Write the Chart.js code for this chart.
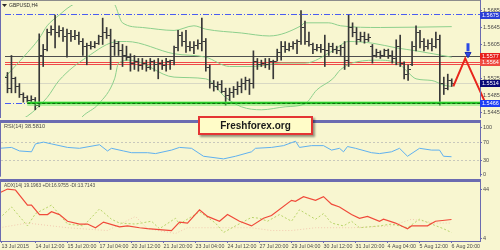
<!DOCTYPE html>
<html><head><meta charset="utf-8">
<script src="https://cdn.jsdelivr.net/npm/chart.js@4.4.0/dist/chart.umd.min.js"></script>
<style>
html,body{margin:0;padding:0;background:#f8f6d0;}
#wrap{position:relative;width:500px;height:250px;overflow:hidden;background:#f8f6d0;}
canvas{position:absolute;left:0;}
#c1{top:0}
#c2{top:121px}
#c3{top:180px}
#brand{position:absolute;left:198px;top:116px;width:111px;height:15px;border:2px solid #e43434;background:#fffcc8;box-shadow:2px 2px 2px rgba(0,0,0,0.4);font:bold 10px "Liberation Sans",Arial,sans-serif;color:#1a1a1a;text-align:center;line-height:15px;}
</style></head>
<body><div id="wrap">
<canvas id="c1" width="500" height="122"></canvas>
<canvas id="c2" width="500" height="59"></canvas>
<canvas id="c3" width="500" height="70"></canvas>
<div id="brand">Freshforex.org</div>
</div>
<script>
// ---------- data ----------
const timeLabels = ['13 Jul 2015','14 Jul 12:00','15 Jul 20:00','17 Jul 04:00','20 Jul 12:00','21 Jul 20:00','23 Jul 04:00','24 Jul 12:00','27 Jul 20:00','29 Jul 04:00','30 Jul 12:00','31 Jul 20:00','4 Aug 04:00','5 Aug 12:00','6 Aug 20:00'];
const timeLabelIdx = [0.5,9,17,25,33,41,49,57,65,73,81,89,97,105,113];
const priceTicks = [1.5685,1.5645,1.5605,1.5565,1.5525,1.5485,1.5445];
const rsiTicks = [100,70,30,0];
const rsiLevels = [70,30];
const adxTicks = [44,4];

const barOpen = [1.5513,1.5528,1.5502,1.5524,1.5506,1.5487,1.5480,1.5473,1.5476,1.5462,
1.5579,1.5594,1.5634,1.5641,1.5634,1.5638,1.5623,1.5630,1.5623,1.5627,
1.5612,1.5601,1.5603,1.5601,1.5608,1.5623,1.5634,1.5627,1.5601,1.5608,
1.5590,1.5579,1.5575,1.5561,1.5564,1.5555,1.5561,1.5550,1.5564,1.5557,
1.5559,1.5555,1.5564,1.5568,1.5597,1.5627,1.5612,1.5601,1.5597,1.5603,
1.5608,1.5612,1.5550,1.5513,1.5506,1.5511,1.5495,1.5484,1.5491,1.5498,
1.5506,1.5513,1.5520,1.5513,1.5564,1.5557,1.5561,1.5557,1.5564,1.5566,
1.5586,1.5601,1.5594,1.5601,1.5608,1.5612,1.5645,1.5612,1.5605,1.5594,
1.5599,1.5594,1.5590,1.5601,1.5594,1.5590,1.5597,1.5568,1.5645,1.5634,
1.5616,1.5623,1.5616,1.5601,1.5579,1.5586,1.5579,1.5590,1.5579,1.5572,
1.5601,1.5561,1.5535,1.5557,1.5601,1.5634,1.5612,1.5601,1.5608,1.5601,
1.5616,1.5513,1.5502,1.5520];
const barHigh = [1.5546,1.5539,1.5579,1.5528,1.5513,1.5491,1.5484,1.5484,1.5480,1.5630,
1.5605,1.5641,1.5649,1.5674,1.5649,1.5645,1.5641,1.5638,1.5638,1.5634,
1.5619,1.5608,1.5612,1.5612,1.5627,1.5667,1.5645,1.5641,1.5616,1.5612,
1.5605,1.5601,1.5583,1.5579,1.5572,1.5572,1.5568,1.5572,1.5568,1.5572,
1.5568,1.5572,1.5568,1.5601,1.5638,1.5634,1.5638,1.5612,1.5612,1.5616,
1.5667,1.5619,1.5557,1.5520,1.5517,1.5520,1.5502,1.5502,1.5506,1.5517,
1.5524,1.5528,1.5524,1.5590,1.5572,1.5568,1.5572,1.5572,1.5568,1.5594,
1.5612,1.5612,1.5608,1.5612,1.5616,1.5685,1.5660,1.5634,1.5608,1.5605,
1.5605,1.5627,1.5608,1.5608,1.5601,1.5603,1.5612,1.5674,1.5656,1.5645,
1.5634,1.5634,1.5630,1.5605,1.5594,1.5590,1.5594,1.5594,1.5590,1.5616,
1.5627,1.5564,1.5557,1.5612,1.5649,1.5638,1.5619,1.5616,1.5619,1.5634,
1.5627,1.5528,1.5535,1.5524];
const barLow = [1.5502,1.5491,1.5491,1.5491,1.5480,1.5469,1.5469,1.5467,1.5451,1.5458,
1.5553,1.5590,1.5627,1.5597,1.5623,1.5612,1.5575,1.5612,1.5616,1.5605,
1.5579,1.5557,1.5594,1.5597,1.5605,1.5605,1.5619,1.5546,1.5579,1.5579,
1.5553,1.5568,1.5542,1.5546,1.5542,1.5546,1.5542,1.5546,1.5542,1.5524,
1.5546,1.5542,1.5546,1.5557,1.5590,1.5601,1.5586,1.5590,1.5583,1.5594,
1.5590,1.5542,1.5502,1.5495,1.5498,1.5491,1.5462,1.5473,1.5480,1.5487,
1.5491,1.5498,1.5487,1.5502,1.5546,1.5553,1.5550,1.5546,1.5524,1.5566,
1.5568,1.5586,1.5590,1.5594,1.5583,1.5605,1.5605,1.5601,1.5583,1.5590,
1.5586,1.5553,1.5579,1.5586,1.5583,1.5579,1.5546,1.5553,1.5623,1.5605,
1.5612,1.5608,1.5612,1.5561,1.5575,1.5572,1.5577,1.5572,1.5561,1.5557,
1.5553,1.5524,1.5520,1.5555,1.5590,1.5597,1.5590,1.5594,1.5590,1.5597,
1.5462,1.5487,1.5498,1.5506];
const barClose = [1.5528,1.5502,1.5524,1.5506,1.5487,1.5480,1.5473,1.5476,1.5462,1.5579,
1.5594,1.5634,1.5641,1.5634,1.5638,1.5623,1.5630,1.5623,1.5627,1.5612,
1.5601,1.5603,1.5601,1.5608,1.5623,1.5634,1.5627,1.5601,1.5608,1.5590,
1.5579,1.5575,1.5561,1.5564,1.5555,1.5561,1.5550,1.5564,1.5557,1.5559,
1.5555,1.5564,1.5568,1.5597,1.5627,1.5612,1.5601,1.5597,1.5603,1.5608,
1.5612,1.5550,1.5513,1.5506,1.5511,1.5495,1.5484,1.5491,1.5498,1.5506,
1.5513,1.5520,1.5513,1.5564,1.5557,1.5561,1.5557,1.5564,1.5566,1.5586,
1.5601,1.5594,1.5601,1.5608,1.5612,1.5645,1.5612,1.5605,1.5594,1.5599,
1.5594,1.5590,1.5601,1.5594,1.5590,1.5597,1.5568,1.5645,1.5634,1.5616,
1.5623,1.5616,1.5621,1.5579,1.5586,1.5579,1.5590,1.5579,1.5572,1.5601,
1.5561,1.5535,1.5546,1.5601,1.5634,1.5612,1.5601,1.5608,1.5601,1.5616,
1.5513,1.5502,1.5520,1.5514];

const bbUpperIdx = [0,5,9,11,14,17,25,28,30,35,43,48,51,60,67,75,76,82,85,95,113];
const bbUpper = [1.5524,1.5575,1.5619,1.5649,1.5674,1.5696,1.5726,1.5700,1.5656,1.5645,1.5638,1.5649,1.5641,1.5632,1.5625,1.5649,1.5656,1.5656,1.5649,1.5645,1.5647];
const bbMidIdx = [3,6,11,14,21,29,31,43,51,57,63,70,76,83,87,93,99,104,113];
const bbMid = [1.5423,1.5436,1.5480,1.5520,1.5575,1.5612,1.5612,1.5583,1.5575,1.5553,1.5553,1.5561,1.5561,1.5590,1.5612,1.5608,1.5597,1.5590,1.5575];
const bbLowIdx = [17,20,24,28,29,32,43,51,56,60,65,71,76,79,83,85,89,95,100,102,104,108,111,113];
const bbLow = [1.5403,1.5436,1.5465,1.5524,1.5561,1.5568,1.5528,1.5524,1.5480,1.5458,1.5451,1.5458,1.5465,1.5498,1.5524,1.5546,1.5564,1.5568,1.5557,1.5539,1.5524,1.5520,1.5509,1.5506];

const rsiIdx = [0,3,5,8,9,11,13,17,20,25,27,28,31,33,37,39,43,45,48,51,56,59,63,64,68,71,74,75,78,81,83,85,86,87,89,93,95,98,100,102,105,108,110,111,113];
const rsiVal = [56.6,58.5,50.9,49.1,66.0,69.8,66.0,58.5,56.6,64.2,50.9,56.6,50.9,47.2,47.2,45.3,52.8,58.5,56.6,39.6,34.0,39.6,49.1,56.6,58.5,62.3,71.7,58.5,62.3,62.3,52.8,56.6,49.1,60.4,56.6,47.2,45.3,49.1,56.6,39.6,56.6,52.8,52.8,39.6,38.6];

const adxIdx = [0,2,4,7,8,10,12,13,15,17,20,22,24,26,30,32,35,37,40,43,45,47,50,52,55,57,60,63,66,68,73,74,76,79,81,83,85,88,90,92,95,96,99,102,103,107,109,113];
const adxVal = [40.9,44.0,43.2,30.9,30.9,23.2,23.2,25.5,23.2,17.8,15.5,15.5,12.5,17.1,13.2,14.0,12.5,11.7,10.9,10.2,17.1,16.3,27.1,21.7,17.8,23.2,17.8,14.0,20.2,22.5,34.8,34.0,37.8,34.8,37.8,31.7,29.4,23.2,20.2,21.7,17.8,19.4,16.3,11.7,14.0,14.0,17.8,19.2];
const pdiIdx = [0,3,7,9,13,17,21,25,28,30,34,38,40,44,45,50,54,56,59,63,65,67,70,73,75,79,81,83,86,88,90,95,98,102,105,108,111,113];
const pdiVal = [20.2,29.4,14.0,24.0,30.9,15.5,14.0,27.8,19.4,16.3,15.5,17.8,11.7,20.2,15.5,25.5,16.3,8.6,14.0,20.9,20.2,17.8,23.2,17.8,27.1,19.4,24.0,16.3,14.0,17.8,12.5,14.0,15.5,12.5,19.4,15.5,11.7,8.6];
const mdiIdx = [0,7,17,27,34,37,44,47,52,63,68,73,79,88,98,103,109,113];
const mdiVal = [12.5,16.3,12.5,10.2,21.7,11.7,7.8,12.5,12.5,12.5,10.2,10.2,12.5,12.5,14.0,19.4,16.3,16.3];

// drawn objects (in bar index / price units)
const levelBlueTop = 1.5675, levelGray = 1.5576, levelRed = [1.5563,1.5558], levelBid = 1.5514, levelGreen = 1.5466, greenStartIdx = 6;
const priceTags = [1.5675,1.5577,1.5564,1.5514,1.5466];
const priceTagColors = ['#2a3fd6','#e8201a','#ef4a40','#0a0a78','#1f3df5'];
const redArrowIdx = [113.4,116.4,121.4];
const redArrowPrice = [1.5506,1.5572,1.5469];
const blueArrowIdx = [117.1,117.1];
const blueArrowPrice = [1.5608,1.5589];
const blueArrowHead = 1.5582;

// ---------- drawing ----------
const AXIS='#6b6bb0', TXT='#4a4a4a', FONT='"Liberation Sans", Arial, sans-serif', BAR='#383838', BB='#8ccf8c';
const pts=(xs,ys)=>xs.map((x,k)=>({x:x,y:ys[k]}));
const barIdx = barOpen.map((_,i)=>i);
const XMIN=0.375, XMAX=120.125;

function tickImg(side){const c=document.createElement('canvas');c.width=5;c.height=1;const g=c.getContext('2d');g.fillStyle=BAR;g.fillRect(side==='open'?0:3,0,2,1);return c;}
const openImg=tickImg('open'), closeImg=tickImg('close');

function hline(ctx,x0,x1,y,color,w,dash){ctx.save();ctx.strokeStyle=color;ctx.lineWidth=w;ctx.setLineDash(dash||[]);const yy=(w%2===1)?Math.round(y-0.5)+0.5:Math.round(y);ctx.beginPath();ctx.moveTo(x0,yy);ctx.lineTo(x1,yy);ctx.stroke();ctx.restore();}

function frame(o){return {id:'frame',afterDraw(chart){const {ctx,chartArea:a}=chart;ctx.save();
  ctx.fillStyle=o.topColor||AXIS; ctx.fillRect(0,0,a.right+1,o.topRows);
  ctx.fillStyle=AXIS;
  ctx.fillRect(0,0,1,a.bottom+1);
  ctx.fillRect(a.right,0,1,a.bottom+1);
  ctx.fillRect(0,o.bottomRow,a.right+1,1);
  if(o.label){ctx.fillStyle=TXT;ctx.font=o.labelSize+'px '+FONT;ctx.textBaseline='middle';ctx.textAlign='left';ctx.fillText(o.label,4,o.labelY);}
  ctx.restore();}};}

const commonY = (min,max,ticks,fmt)=>({position:'right',min:min,max:max,
  afterFit(s){s.width=20;},
  afterBuildTicks(s){s.ticks=ticks.map(v=>({value:v}));},
  ticks:{callback:fmt,font:{size:5.5,family:FONT},color:TXT,padding:1,autoSkip:false},
  grid:{drawOnChartArea:false,drawTicks:true,tickLength:2,tickColor:AXIS},
  border:{display:false}});

const hiddenX = {type:'linear',min:XMIN,max:XMAX,display:false,offset:false,grid:{offset:false}};

const baseOpts = {responsive:false,animation:false,events:[],
  plugins:{legend:{display:false},tooltip:{enabled:false}}};

// ---- main price chart ----
new Chart(document.getElementById('c1'),{
  type:'scatter',
  data:{datasets:[
    {type:'line',data:pts(redArrowIdx,redArrowPrice),borderColor:'#e8261c',borderWidth:2,pointRadius:0,clip:false,order:0},
    {type:'scatter',data:[{x:redArrowIdx[2],y:redArrowPrice[2]}],pointStyle:'triangle',pointRadius:4,pointRotation:157,pointBackgroundColor:'#e8261c',pointBorderColor:'#e8261c',clip:false,order:0},
    {type:'line',data:pts(blueArrowIdx,blueArrowPrice),borderColor:'#2a4ae6',borderWidth:3,pointRadius:0,order:0},
    {type:'scatter',data:[{x:blueArrowIdx[0],y:blueArrowHead}],pointStyle:'triangle',pointRadius:3.5,pointRotation:180,pointBackgroundColor:'#2a4ae6',pointBorderColor:'#1a2ab0',order:0},
    {type:'scatter',data:barIdx.map(i=>({x:i,y:barOpen[i]})),pointStyle:openImg,pointRadius:1,order:2},
    {type:'scatter',data:barIdx.map(i=>({x:i,y:barClose[i]})),pointStyle:closeImg,pointRadius:1,order:2},
    {type:'bar',data:barIdx.map(i=>({x:i,y:[barLow[i],barHigh[i]]})),backgroundColor:BAR,borderWidth:0,barThickness:1,grouped:false,order:3},
    {type:'line',data:pts(bbUpperIdx,bbUpper),borderColor:BB,borderWidth:1,pointRadius:0,cubicInterpolationMode:'monotone',order:5},
    {type:'line',data:pts(bbMidIdx,bbMid),borderColor:BB,borderWidth:1,pointRadius:0,cubicInterpolationMode:'monotone',order:5},
    {type:'line',data:pts(bbLowIdx,bbLow),borderColor:BB,borderWidth:1,pointRadius:0,cubicInterpolationMode:'monotone',order:5}
  ]},
  options:Object.assign({},baseOpts,{
    layout:{padding:{left:1,top:1,right:0,bottom:1}},
    scales:{
      x:hiddenX,
      y:commonY(1.5434,1.5698,priceTicks,v=>v.toFixed(4))
    }}),
  plugins:[
    {id:'levels',
     beforeDatasetsDraw(chart){const {ctx,chartArea:a,scales:{x,y}}=chart;ctx.save();ctx.beginPath();ctx.rect(a.left,a.top,a.right-a.left,a.bottom-a.top);ctx.clip();
       hline(ctx,a.left,a.right,y.getPixelForValue(levelBid),'#d8d8c4',1);
       hline(ctx,a.left,a.right,y.getPixelForValue(levelGray),'#4e4e4e',1);
       levelRed.forEach(v=>hline(ctx,a.left,a.right,y.getPixelForValue(v),'#f04848',1));
       hline(ctx,a.left,a.right,y.getPixelForValue(levelBlueTop),'#4a5cf2',1,[6,2,1,2]);
       hline(ctx,a.left,x.getPixelForValue(greenStartIdx),y.getPixelForValue(levelGreen),'#4a5cf2',1,[6,2,1,2]);
       ctx.restore();},
     afterDatasetsDraw(chart){const {ctx,chartArea:a,scales:{x,y}}=chart;const gy=y.getPixelForValue(levelGreen),x0=x.getPixelForValue(greenStartIdx);
       hline(ctx,x0,a.right,gy,'rgba(90,230,90,0.45)',5);
       hline(ctx,x0,a.right,gy,'#28c828',2);
       hline(ctx,x0,a.right,gy,'#0b6e0b',1,[3,2]);}
    },
    frame({topRows:1,topColor:'#8c8c8c',bottomRow:120}),
    {id:'tags',afterDraw(chart){const {ctx,chartArea:a,scales:{y}}=chart;ctx.save();
       priceTags.forEach((v,k)=>{const yy=Math.round(y.getPixelForValue(v));ctx.fillStyle=priceTagColors[k];ctx.fillRect(a.right,yy-3,20,7);
         ctx.fillStyle='#ffffff';ctx.font='5.5px '+FONT;ctx.textBaseline='middle';ctx.textAlign='left';ctx.fillText(v.toFixed(4),a.right+2,yy+0.5);});
       ctx.fillStyle='#2a2a2a';ctx.beginPath();ctx.moveTo(2,4);ctx.lineTo(7,4);ctx.lineTo(4.5,7);ctx.closePath();ctx.fill();
       ctx.font='5px '+FONT;ctx.textBaseline='middle';ctx.fillText('GBPUSD,H4',9,5.5);
       ctx.restore();}}
  ]
});

// ---- RSI ----
new Chart(document.getElementById('c2'),{
  type:'scatter',
  data:{datasets:[
    {type:'line',data:pts(rsiIdx,rsiVal),borderColor:'#5fb0ef',borderWidth:1,pointRadius:0}
  ]},
  options:Object.assign({},baseOpts,{
    layout:{padding:{left:1,top:1,right:0,bottom:1}},
    scales:{
      x:hiddenX,
      y:commonY(-1.9,105.7,rsiTicks,v=>String(v))
    }}),
  plugins:[
    {id:'rsiLevels',beforeDatasetsDraw(chart){const {ctx,chartArea:a,scales:{y}}=chart;rsiLevels.forEach(v=>hline(ctx,a.left,a.right,y.getPixelForValue(v),'#c8c8bc',1,[2,2]));}},
    frame({topRows:2,bottomRow:58,label:'RSI(14) 38.5810',labelSize:5.6,labelY:5})
  ]
});

// ---- ADX ----
new Chart(document.getElementById('c3'),{
  type:'scatter',
  data:{datasets:[
    {type:'line',data:pts(adxIdx,adxVal),borderColor:'#f04a3a',borderWidth:1.2,pointRadius:0,order:0},
    {type:'line',data:pts(pdiIdx,pdiVal),borderColor:'#b9d46a',borderWidth:1,borderDash:[2,2],pointRadius:0,order:1},
    {type:'line',data:pts(mdiIdx,mdiVal),borderColor:'#f2c9b0',borderWidth:1,borderDash:[1,2],pointRadius:0,order:2}
  ]},
  options:Object.assign({},baseOpts,{
    layout:{padding:{left:1,top:1,right:0,bottom:0}},
    scales:{
      x:{type:'linear',min:XMIN,max:XMAX,position:'bottom',offset:false,
         afterFit(s){s.height=9;},
         afterBuildTicks(s){s.ticks=timeLabelIdx.map(v=>({value:v}));},
         ticks:{callback:(v,i)=>timeLabels[i],align:'start',font:{size:5.3,family:FONT},color:TXT,padding:0,maxRotation:0,autoSkip:false},
         grid:{drawOnChartArea:false,drawTicks:true,tickLength:2,tickColor:AXIS,offset:false},
         border:{display:false}},
      y:commonY(1.7,47.85,adxTicks,v=>String(v))
    }}),
  plugins:[
    frame({topRows:2,bottomRow:61,label:'ADX(14) 19.1963 +DI:16.9755 -DI:13.7143',labelSize:4.8,labelY:6})
  ]
});
</script>
</body></html>
